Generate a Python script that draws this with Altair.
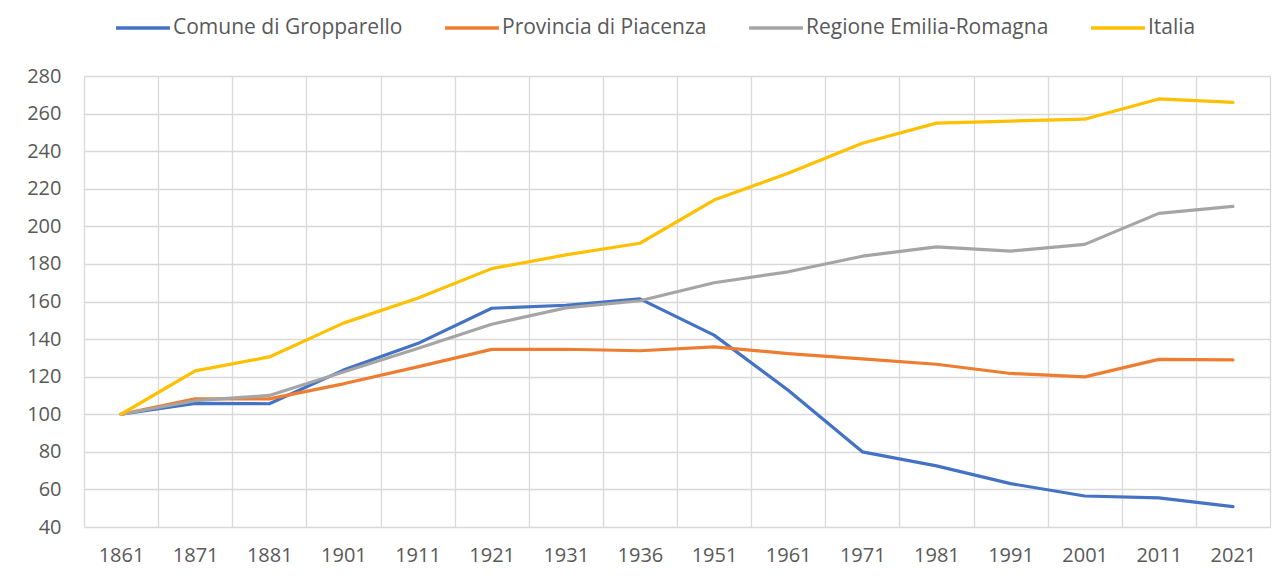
import altair as alt
import pandas as pd

anni = ["1861", "1871", "1881", "1901", "1911", "1921", "1931", "1936",
        "1951", "1961", "1971", "1981", "1991", "2001", "2011", "2021"]
serie = ["Comune di Gropparello", "Provincia di Piacenza", "Regione Emilia-Romagna", "Italia"]
comune = [100, 105.8, 105.6, 123.5, 137.6, 156.4, 158.0, 161.4, 142.1, 112.8, 80.0, 72.5, 63.1, 56.5, 55.5, 50.8]
provincia = [100, 108.2, 108.2, 116.2, 125.2, 134.5, 134.6, 133.8, 135.9, 132.3, 129.5, 126.6, 121.7, 119.9, 129.2, 128.9]
regione = [100, 107.2, 110.0, 122.5, 135.0, 147.9, 156.6, 160.4, 170.0, 175.8, 184.1, 189.1, 186.8, 190.4, 206.9, 210.6]
italia = [100, 123.1, 130.5, 148.5, 161.7, 177.5, 184.8, 191.0, 214.0, 228.2, 244.2, 254.9, 256.0, 257.0, 267.8, 266.0]
colori = ["#4472C4", "#ED7D31", "#A5A5A5", "#FFC000"]
y_ticks = list(range(40, 281, 20))

rows = []
for nome, vals in zip(serie, [comune, provincia, regione, italia]):
    for a, v in zip(anni, vals):
        rows.append({"anno": a, "valore": v, "serie": nome})
df = pd.DataFrame(rows)

FONT = "Open Sans"
GRID = "#d9d9d9"
TXT = "#595959"

lines = alt.Chart(df).mark_line(strokeWidth=3.2, strokeCap="round", strokeJoin="round").encode(
    x=alt.X("anno:O", sort=anni, bandPosition=0.5,
            scale=alt.Scale(type="band", paddingInner=0, paddingOuter=0),
            axis=alt.Axis(title=None, tickBand="extent", labelAngle=0, ticks=False, domain=False,
                          grid=True, gridColor=GRID, gridWidth=1.3,
                          labelFont=FONT, labelFontSize=20, labelColor=TXT, labelPadding=18)),
    y=alt.Y("valore:Q", scale=alt.Scale(domain=[40, 280], nice=False, zero=False),
            axis=alt.Axis(title=None, values=y_ticks, ticks=False, domain=False,
                          grid=True, gridColor=GRID, gridWidth=1.3,
                          labelFont=FONT, labelFontSize=20, labelColor=TXT, labelPadding=23)),
    color=alt.Color("serie:N", scale=alt.Scale(domain=serie, range=colori),
                    legend=alt.Legend(title=None, orient="none", legendX=30, legendY=-77,
                                      direction="horizontal", columns=4, columnPadding=35,
                                      symbolType="stroke", symbolSize=2900, symbolStrokeWidth=3.5,
                                      labelFont=FONT, labelFontSize=21, labelColor=TXT,
                                      labelOffset=1, labelLimit=400)),
    order=alt.Order("ord:Q"),
).transform_calculate(ord="indexof(['Comune di Gropparello','Provincia di Piacenza','Regione Emilia-Romagna','Italia'], datum.serie)")

border = alt.Chart(pd.DataFrame({"a": [0]})).mark_rule(color=GRID, strokeWidth=1.5).encode(
    x=alt.value(-77), y=alt.value(-76), y2=alt.value(502))

chart = alt.layer(lines, border).properties(
    width=1186, height=451,
    autosize=alt.AutoSizeParams(type="none"),
    padding={"left": 76, "top": 68, "right": 5, "bottom": 50},
).configure_view(stroke=None).configure(background="white")

chart.save("out.html", embed_options={"renderer": "svg", "actions": False})
